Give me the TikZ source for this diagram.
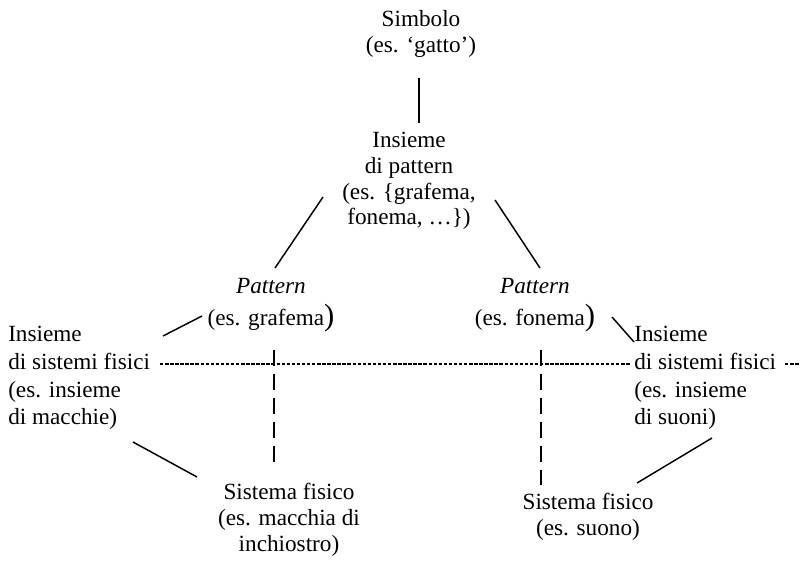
\documentclass[tikz,border=0pt]{standalone}
\usepackage{fontspec}
\setmainfont{Liberation Serif}
\usetikzlibrary{calc}

\newcommand{\bigparen}{{\fontsize{23}{19.5}\selectfont )}}

\begin{document}
\begin{tikzpicture}[x=0.75pt, y=-0.75pt,
        lbl/.style={inner sep=0pt, align=center, font=\fontsize{17.4}{19.3}\selectfont},
        sidelbl/.style={inner sep=0pt, align=left, anchor=west, font=\fontsize{17.4}{20.8}\selectfont},
        link/.style={line width=1.1pt},
        vdash/.style={line width=1.4pt, dash pattern=on 12pt off 6pt},
        hdash/.style={line width=0.9pt, dash pattern=on 2.6pt off 1.2pt}]
        \useasboundingbox (0,0) rectangle (809,560);

        % nodes
        \node[lbl] (simb) at (421,34) {Simbolo\\(es. `gatto')};
        \node[lbl] (insp) at (409,181) {Insieme\\di pattern\\(es. \{grafema,\\fonema, \ldots\})};
        \node[lbl] (patL) at (271,305) {\textit{Pattern}\\[5pt](es. grafema\bigparen};
        \node[lbl] (patR) at (535,305) {\textit{Pattern}\\[5pt](es. fonema\bigparen};
        \node[sidelbl] (fisL) at (8,378) {Insieme\\di sistemi fisici\\(es. insieme\\di macchie)};
        \node[sidelbl] (fisR) at (634,378) {Insieme\\di sistemi fisici\\(es. insieme\\di suoni)};
        \node[lbl] (sisL) at (289,520) {Sistema fisico\\(es. macchia di\\inchiostro)};
        \node[lbl] (sisR) at (588,517) {Sistema fisico\\(es. suono)};

        % solid links
        \draw[link] ($(simb)+(-2,44)$) -- ($(insp)+(10,-58)$);
        \draw[link] ($(insp)+(-86,16)$) -- ($(patL)+(4,-37)$);
        \draw[link] ($(insp)+(86,19)$) -- ($(patR)+(5,-37)$);
        \draw[link] ($(fisL.west)+(155,-42)$) -- ($(patL)+(-69,11)$);
        \draw[link] ($(patR)+(77,12)$) -- ($(fisR.west)+(0,-36)$);
        \draw[link] ($(fisL.west)+(125,64)$) -- ($(sisL)+(-92,-43)$);
        \draw[link] ($(fisR.west)+(78,60)$) -- ($(sisR)+(49,-34)$);

        % dashed links
        \draw[hdash] ($(fisL.west)+(152,-14)$) -- ($(fisR.west)+(-4,-14)$);
        \draw[hdash] ($(fisR.west)+(151,-14)$) -- ++(15,0);
        \draw[vdash] ($(patL)+(3,45)$) -- ($(sisL)+(-15,-55)$);
        \draw[vdash] ($(patR)+(6,45)$) -- ($(sisR)+(-47,-32)$);
\end{tikzpicture}
\end{document}
